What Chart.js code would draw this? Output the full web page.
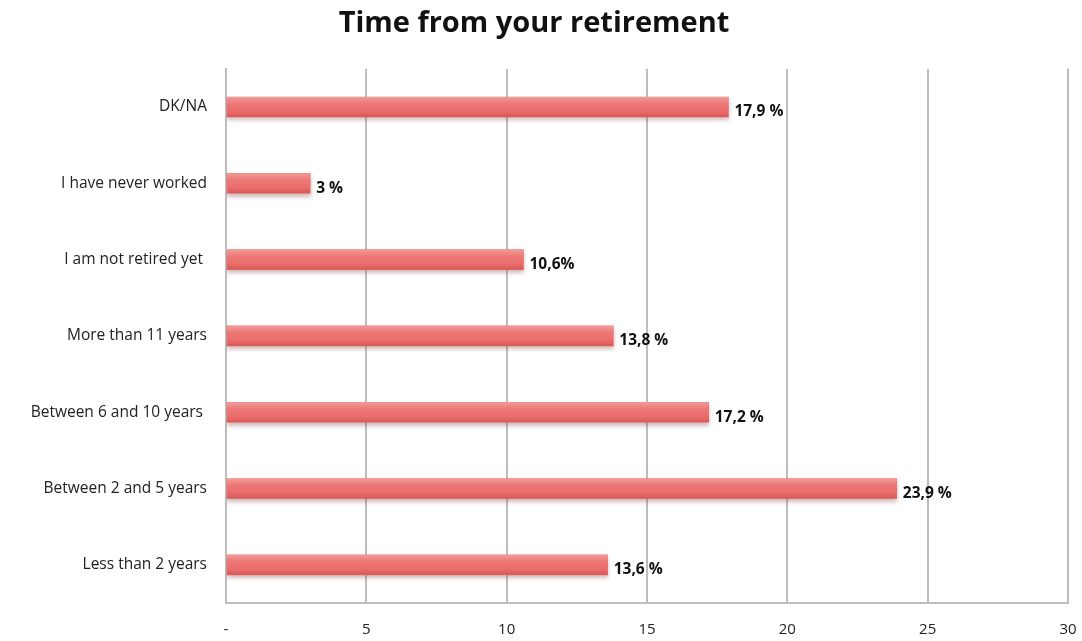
<!DOCTYPE html>
<html>
<head>
<meta charset="utf-8">
<script src="https://cdn.jsdelivr.net/npm/chart.js@4/dist/chart.umd.min.js"></script>
<style>
	body { margin: 0; background: #fff; }
	canvas { display: block; }
</style>
</head>
<body>
<canvas id="chart" width="1082" height="641"></canvas>
<script>
// categories top to bottom, as in the picture
const categories = [
	'DK/NA',
	'I have never worked',
	'I am not retired yet ',
	'More than 11 years',
	'Between 6 and 10 years ',
	'Between 2 and 5 years',
	'Less than 2 years'
];
const shares = [17.9, 3, 10.6, 13.8, 17.2, 23.9, 13.6];
const shareLabels = ['17,9 %', '3 %', '10,6%', '13,8 %', '17,2 %', '23,9 %', '13,6 %'];
const xTicks = [0, 5, 10, 15, 20, 25, 30];
const xTickLabels = ['-', '5', '10', '15', '20', '25', '30'];

const FONT = "'Open Sans', 'DejaVu Sans', sans-serif";

// soft drop shadow under the bars
const barShadow = {
	id: 'barShadow',
	beforeDatasetsDraw: (chart) => {
		const ctx = chart.ctx;
		ctx.save();
		ctx.shadowColor = 'rgba(120, 60, 60, 0.35)';
		ctx.shadowBlur = 4;
		ctx.shadowOffsetY = 3;
	},
	afterDatasetsDraw: (chart) => {
		chart.ctx.restore();
	}
};

// glossy top highlight + darker bottom edge, then the value labels
const barGloss = {
	id: 'barGloss',
	afterDatasetsDraw: (chart) => {
		const ctx = chart.ctx;
		const meta = chart.getDatasetMeta(0);
		meta.data.forEach((bar, i) => {
			const top = bar.y - bar.height / 2;
			const left = Math.min(bar.x, bar.base);
			const w = Math.abs(bar.x - bar.base);
			const g = ctx.createLinearGradient(0, top, 0, top + bar.height);
			g.addColorStop(0, 'rgba(255,255,255,0.3)');
			g.addColorStop(0.35, 'rgba(255,255,255,0.05)');
			g.addColorStop(0.7, 'rgba(200,60,60,0.05)');
			g.addColorStop(1, 'rgba(170,40,40,0.35)');
			ctx.save();
			ctx.fillStyle = g;
			ctx.fillRect(left, top, w, bar.height);
			ctx.restore();

			ctx.save();
			ctx.font = 'bold 15.5px ' + FONT;
			ctx.fillStyle = '#111';
			ctx.textAlign = 'left';
			ctx.textBaseline = 'middle';
			ctx.fillText(shareLabels[i], bar.x + 6, bar.y + 5);
			ctx.restore();
		});
	}
};

new Chart(document.getElementById('chart'), {
	type: 'bar',
	data: {
		labels: categories,
		datasets: [
			{
				data: shares,
				backgroundColor: '#ec706e',
				borderWidth: 0,
				barThickness: 20
			}
		]
	},
	options: {
		indexAxis: 'y',
		responsive: false,
		animation: false,
		layout: { padding: { left: 0, right: 14, top: 0, bottom: 0 } },
		plugins: {
			legend: { display: false },
			tooltip: { enabled: false },
			title: {
				display: true,
				text: 'Time from your retirement',
				color: '#111',
				font: { family: FONT, size: 29, weight: 'bold' },
				padding: { top: 6, bottom: 28 }
			}
		},
		scales: {
			x: {
				min: 0,
				max: 30,
				afterBuildTicks: (axis) => {
					axis.ticks = xTicks.map((v) => ({ value: v }));
				},
				afterFit: (axis) => {
					axis.height = 38;
					axis.paddingLeft = 0;
					axis.paddingRight = 0;
				},
				grid: {
					color: '#bdbdbd',
					lineWidth: 2,
					drawTicks: false
				},
				border: { display: true, color: '#bdbdbd', width: 2 },
				ticks: {
					padding: 18,
					color: '#222',
					font: { family: FONT, size: 15 },
					callback: (v) => xTickLabels[xTicks.indexOf(v)]
				}
			},
			y: {
				afterFit: (axis) => {
					axis.width = 226;
				},
				grid: { display: false, drawTicks: false },
				border: { display: true, color: '#bdbdbd', width: 2 },
				ticks: {
					padding: 19,
					color: '#222',
					font: { family: FONT, size: 15.5 }
				}
			}
		}
	},
	plugins: [barShadow, barGloss]
});
</script>
</body>
</html>
